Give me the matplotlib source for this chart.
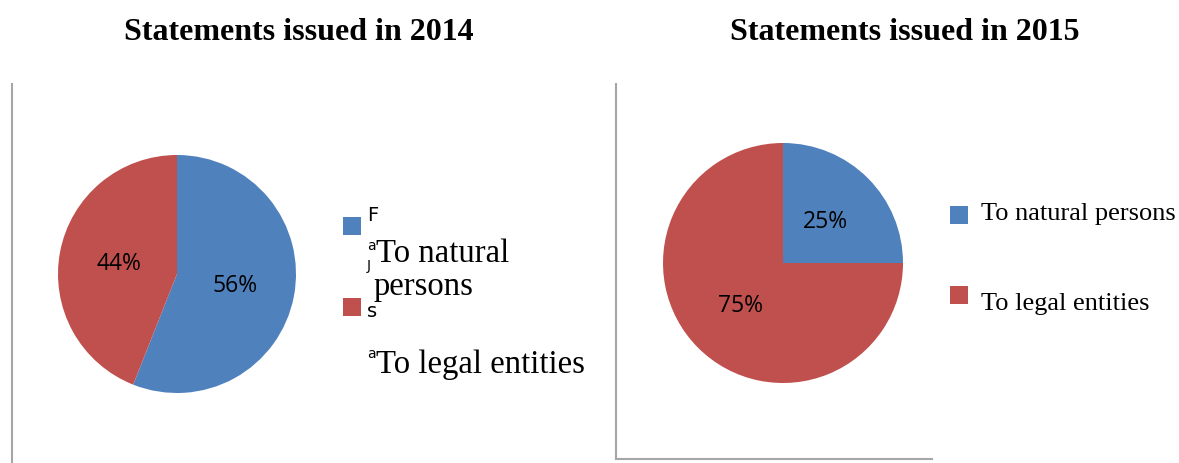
import matplotlib.pyplot as plt
from matplotlib.patches import Rectangle
from matplotlib.lines import Line2D

W, H = 1179, 464

categories = ["To natural persons", "To legal entities"]
shares_2014 = [56, 44]
shares_2015 = [25, 75]
titles = ["Statements issued in 2014", "Statements issued in 2015"]
colors = ["#4F81BD", "#C0504D"]
frame_gray = "#A6A6A6"


def fx(x):
    return x / W


def fy(y):
    return 1 - y / H


fig = plt.figure(figsize=(W / 100, H / 100), dpi=100)
fig.patch.set_facecolor("white")


def pie_axes(cx, cy, r, values):
    ax = fig.add_axes([fx(cx - r), fy(cy + r), 2 * r / W, 2 * r / H])
    ax.pie(values, colors=colors, startangle=90, counterclock=False,
           radius=1, autopct="%d%%", pctdistance=0.5,
           wedgeprops=dict(linewidth=0),
           textprops=dict(family="Open Sans", fontsize=16.5, color="black"))
    ax.set_xlim(-1, 1)
    ax.set_ylim(-1, 1)
    ax.set_aspect("equal")
    ax.axis("off")
    return ax


pie_axes(177, 275, 119, shares_2014)
pie_axes(783, 264, 120, shares_2015)

# titles
title_font = dict(family="Liberation Serif", fontweight="bold", fontsize=23,
                  ha="center", va="baseline")
fig.text(fx(299), fy(40), titles[0], **title_font)
fig.text(fx(905), fy(40), titles[1], **title_font)

# chart frame lines
fig.add_artist(Line2D([fx(12), fx(12)], [fy(85), fy(464)], color=frame_gray, lw=1.5))
fig.add_artist(Line2D([fx(616), fx(616)], [fy(85), fy(460)], color=frame_gray, lw=1.5))
fig.add_artist(Line2D([fx(616), fx(932)], [fy(460), fy(460)], color=frame_gray, lw=1.5))


def swatch(x, y, color, size=18):
    fig.add_artist(Rectangle((fx(x), fy(y + size)), size / W, size / H,
                             facecolor=color, edgecolor="none"))


# 2014 legend, with the leftover letters of an older legend underneath
swatch(343, 218, colors[0])
swatch(343, 299, colors[1])
big = dict(family="Liberation Serif", fontsize=23.6, va="baseline", ha="left")
fig.text(fx(376), fy(262), "To natural", **big)
fig.text(fx(374), fy(295), "persons", **big)
fig.text(fx(376), fy(373), "To legal entities", **big)

stubs = [("F", 221, 14), ("a", 250, 10), ("J", 270, 10), ("s", 317, 14),
         ("a", 358, 10)]
for ch, base, size in stubs:
    fig.text(fx(367), fy(base), ch, family=["Liberation Sans Narrow", "DejaVu Sans"],
             fontsize=size, va="baseline", ha="left")

# 2015 legend
swatch(950, 207, colors[0])
swatch(950, 287, colors[1])
leg = dict(family="Liberation Serif", fontsize=19, va="baseline", ha="left")
fig.text(fx(981), fy(220), categories[0], **leg)
fig.text(fx(981), fy(310), categories[1], **leg)

fig.savefig("out.png", dpi=100)
